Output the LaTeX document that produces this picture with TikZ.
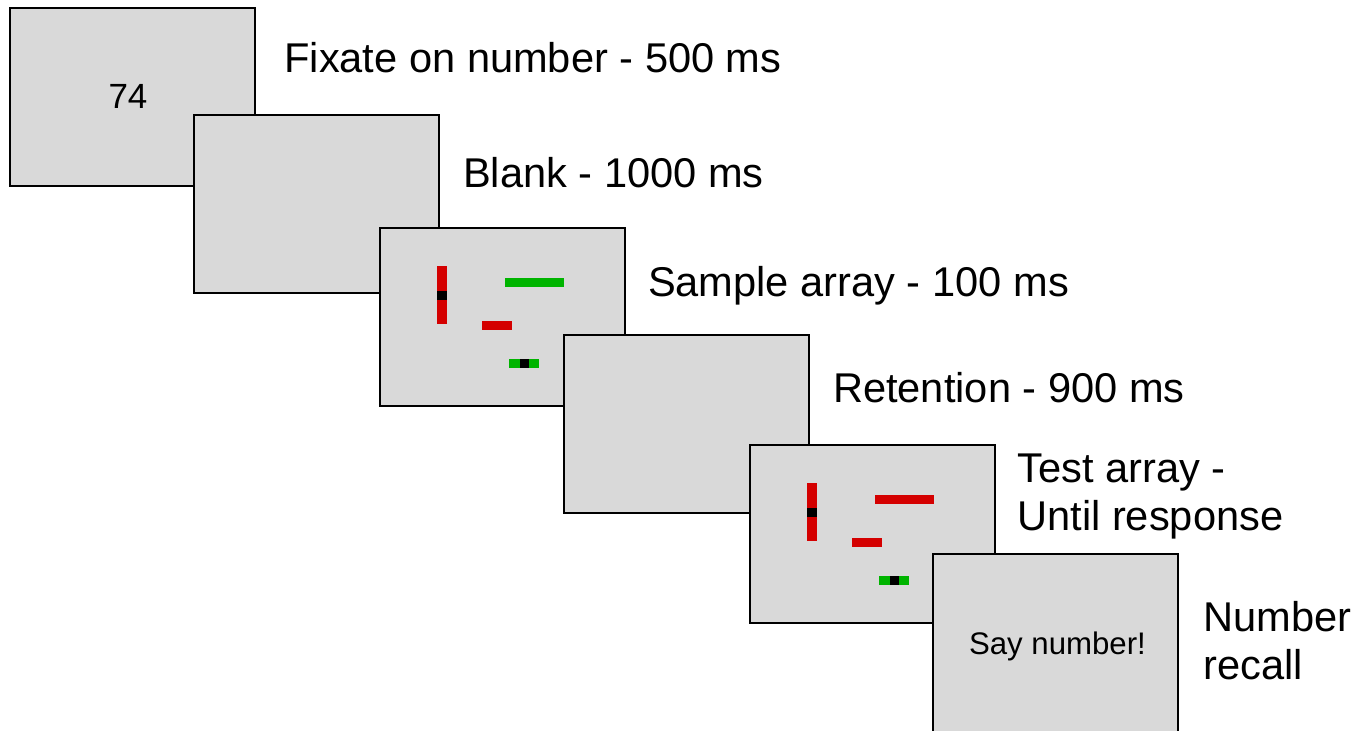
\documentclass[tikz,border=0pt]{standalone}
\usepackage{fontspec}
\setmainfont{Liberation Sans}
\usetikzlibrary{calc}
\definecolor{screengray}{RGB}{217,217,217}
\definecolor{barred}{RGB}{212,0,0}
\definecolor{bargreen}{RGB}{0,180,0}
\tikzset{
    screen/.style={draw=black,line width=1pt,fill=screengray,rectangle,minimum width=122.5pt,minimum height=89pt,anchor=north west,inner sep=0pt},
    caption/.style={anchor=base west,inner sep=0pt,align=left,font=\fontsize{20.8}{24}\selectfont}
}
\begin{document}
\begin{tikzpicture}[x=0.5pt,y=-0.5pt]
        \useasboundingbox (0,0) rectangle (1372,731);
        %% Screens
        \node[screen] (s1) at (9,7) {};
        \node[font=\fontsize{17.5}{20}\selectfont] (num) at (128,96) {74};
        \node[screen] (s2) at (193,114) {};
        \node[screen] (s3) at (379,227) {};
        \node[screen] (s4) at (563,334) {};
        \node[screen] (s5) at (749,444) {};
        \node[screen] (s6) at (932,553) {};
        \node[font=\fontsize{15.6}{18}\selectfont] (say) at ($(s6.center)+(2,3)$) {Say number!};
        %% Bars
        \foreach \s/\c in {s3/bargreen,s5/barred}{
            \begin{scope}[shift={(\s.north west)}]
                \fill[barred] (58,38.7) rectangle (67.5,97.3);
                \fill[black] (58,63.7) rectangle (67.5,73);
                \fill[\c] (126,50.7) rectangle (185,60);
                \fill[barred] (103.3,93.7) rectangle (132.7,103.3);
                \fill[bargreen] (130,131.7) rectangle (159.5,141.3);
                \fill[black] (140.5,131.7) rectangle (150.3,141.3);
            \end{scope}
        }
        %% Captions
        \node[caption] (l1) at (284,72.7) {Fixate on number - 500 ms};
        \node[caption] (l2) at (462.7,187.7) {Blank - 1000 ms};
        \node[caption] (l3) at (647.7,296.7) {Sample array - 100 ms};
        \node[caption] (l4) at (832.7,402.3) {Retention - 900 ms};
        \node[caption] (l5) at (1017,531) {Test array -\\Until response};
        \node[caption] (l6) at (1203,680) {Number\\recall};
    \end{tikzpicture}
\end{document}
